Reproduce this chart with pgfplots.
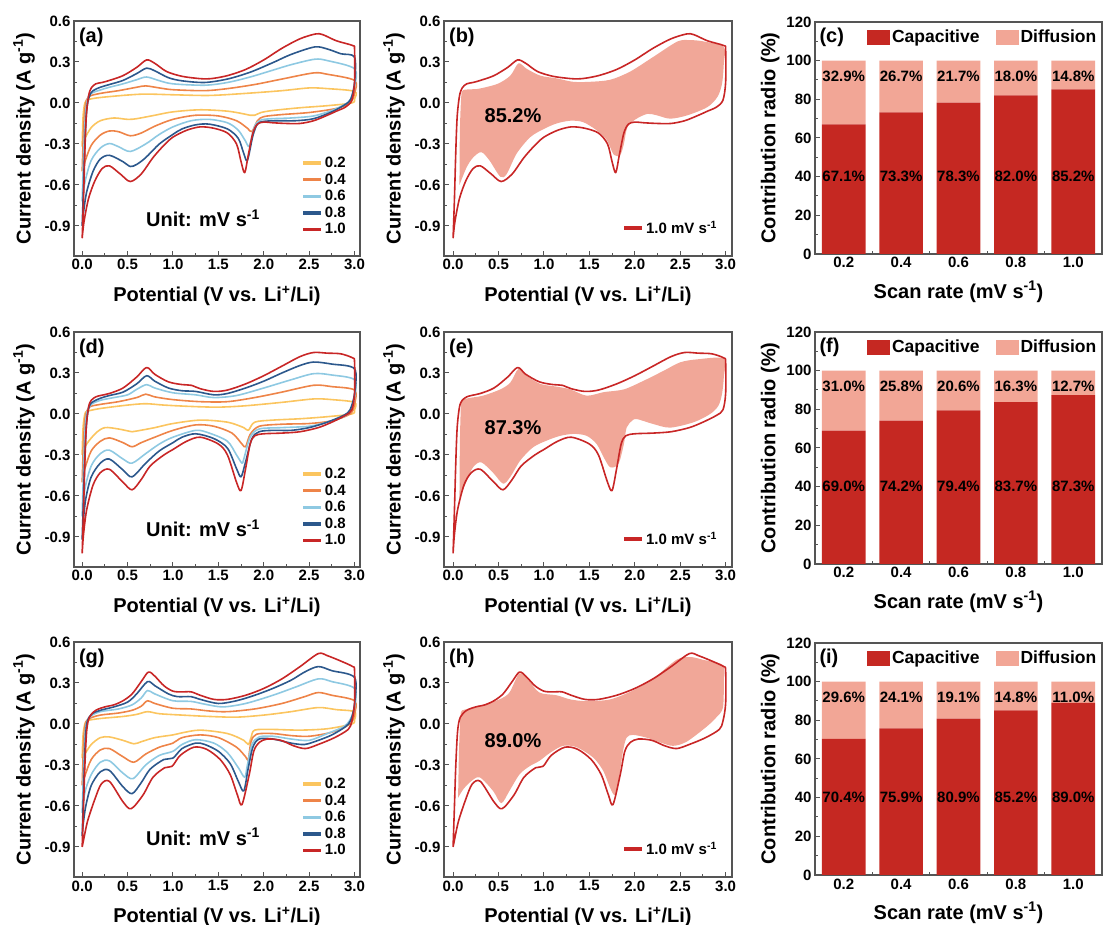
\documentclass[border=0pt]{standalone}
\usepackage{fontspec}
\setmainfont{Liberation Sans}
\usepackage{pgfplots}
\pgfplotsset{compat=1.18}
\definecolor{cY}{RGB}{251,197,95}
\definecolor{cO}{RGB}{238,132,72}
\definecolor{cLB}{RGB}{142,201,226}
\definecolor{cB}{RGB}{44,88,140}
\definecolor{cR}{RGB}{200,38,38}
\definecolor{capR}{RGB}{197,40,34}
\definecolor{difP}{RGB}{242,166,150}
\definecolor{shd}{RGB}{241,167,152}
\definecolor{axc}{RGB}{85,85,85}
\tikzset{
 plab/.style={font=\fontsize{20pt}{24pt}\selectfont\bfseries, inner sep=0pt},
 blab/.style={font=\fontsize{15pt}{18pt}\selectfont\bfseries, inner sep=0pt, text=black}
}
\pgfplotsset{
 base/.style={scale only axis, tick pos=left, tick align=inside,
   axis line style={draw=axc,line width=1.1pt},
   every tick/.style={draw=axc,line width=1pt},
   major tick length=5pt, minor tick length=3pt,
   /pgf/number format/assume math mode=true,
   tick label style={font=\fontsize{15pt}{18pt}\selectfont\bfseries},
   label style={font=\fontsize{20pt}{24pt}\selectfont\bfseries},
   enlargelimits=false},
 cv/.style={base, height=235pt, ymin=-1.12, ymax=0.6,
   xtick={0,0.5,1,1.5,2,2.5,3}, ytick={-0.9,-0.6,-0.3,0,0.3,0.6},
   minor x tick num=1, minor y tick num=1,
   xticklabel style={/pgf/number format/.cd,fixed,fixed zerofill,precision=1},
   yticklabel style={/pgf/number format/.cd,fixed,fixed zerofill,precision=1},
   xlabel={Potential (V vs. Li\textsuperscript{+}/Li)},
   ylabel={Current density (A g\textsuperscript{-1})},
   xlabel style={yshift=-9pt}, ylabel style={yshift=3pt},
   every axis plot/.append style={smooth, line width=1.6pt, line join=round},
   legend cell align=left,
   legend image code/.code={\draw[##1, line width=3.5pt] (0pt,0pt) -- (18pt,0pt);}},
 c1/.style={cv,width=286pt,xmin=-0.09,xmax=3.06,
   legend style={draw=none, fill=none, at={(0.958,0.43)}, anchor=north east,
   font=\fontsize{15pt}{18pt}\selectfont\bfseries, inner sep=0pt, row sep=0.6pt}},
 c2/.style={cv,width=288pt,xmin=-0.1,xmax=3.07,
   legend style={draw=none, fill=none, at={(0.955,0.12)}, anchor=east,
   font=\fontsize{15pt}{18pt}\selectfont\bfseries, inner sep=0pt}},
 br/.style={base, width=287pt, height=232pt, xmin=-0.5, xmax=4.5, ymin=0, ymax=120,
   ybar stacked, bar width=0.76, xtick={0,1,2,3,4}, xticklabels={0.2,0.4,0.6,0.8,1.0},
   minor xtick={0.5,1.5,2.5,3.5}, ytick={0,20,40,60,80,100,120}, minor y tick num=1,
   xlabel={Scan rate (mV s\textsuperscript{-1})}, ylabel={Contribution radio (\%)},
   xlabel style={yshift=-6pt},
   legend columns=2,
   legend style={draw=none, fill=none, at={(0.988,0.935)}, anchor=east,
   font=\fontsize{17.5pt}{21pt}\selectfont\bfseries, inner sep=0pt,
   /tikz/every even column/.append style={column sep=14pt}},
   legend image code/.code={\fill[##1, draw=none] (0pt,-7.5pt) rectangle (23pt,7.5pt);}},
 ov/.style={scale only axis, width=287pt, height=232pt, xmin=-0.5, xmax=4.5, ymin=0, ymax=120, hide axis, clip=false}
}
\begin{document}
\begin{tikzpicture}
\useasboundingbox (0,0) rectangle (1105pt,925pt);
% ================= (a) =================
\begin{axis}[c1, at={(74pt,669pt)}, anchor=south west]
\addplot[cY] coordinates {(0,-0.32) (0.01,-0.1) (0.03,0.0) (0.07,0.025) (0.2,0.04) (0.5,0.058) (0.7,0.065) (1.0,0.06) (1.4,0.055) (1.8,0.07) (2.2,0.09) (2.5,0.11) (2.7,0.105) (3.0,0.085) (3.0,0.03)
 (2.97,0.0) (2.7,-0.02) (2.4,-0.035) (2.1,-0.055) (1.97,-0.07) (1.9,-0.09) (1.85,-0.09) (1.78,-0.08) (1.6,-0.06) (1.3,-0.05) (1.0,-0.065) (0.8,-0.09) (0.6,-0.115) (0.5,-0.12) (0.35,-0.11) (0.2,-0.13) (0.1,-0.18) (0.03,-0.26) (0,-0.32)};
\addplot[cO] coordinates {(0,-0.5) (0.015,-0.2) (0.035,-0.02) (0.07,0.045) (0.2,0.07) (0.4,0.09) (0.6,0.115) (0.7,0.125) (0.85,0.11) (1.0,0.097) (1.35,0.09) (1.6,0.105) (1.9,0.135) (2.2,0.175) (2.55,0.22) (2.7,0.21) (3.0,0.165) (3.0,0.07)
 (2.95,0.0) (2.8,-0.04) (2.5,-0.07) (2.2,-0.085) (2.0,-0.1) (1.93,-0.13) (1.87,-0.21) (1.82,-0.185) (1.7,-0.13) (1.5,-0.095) (1.25,-0.09) (1.0,-0.12) (0.8,-0.17) (0.65,-0.22) (0.53,-0.24) (0.4,-0.21) (0.3,-0.205) (0.2,-0.235) (0.1,-0.31) (0.03,-0.43) (0,-0.5)};
\addplot[cLB] coordinates {(0,-0.72) (0.015,-0.4) (0.035,-0.1) (0.06,0.03) (0.1,0.07) (0.2,0.095) (0.3,0.115) (0.45,0.14) (0.6,0.17) (0.71,0.19) (0.85,0.163) (1.0,0.14) (1.35,0.13) (1.6,0.15) (1.85,0.19) (2.1,0.24) (2.3,0.28) (2.56,0.32) (2.7,0.31) (3.0,0.25) (3.0,0.12)
 (2.95,0.02) (2.88,-0.015) (2.75,-0.055) (2.55,-0.095) (2.3,-0.11) (2.1,-0.115) (1.97,-0.125) (1.9,-0.17) (1.84,-0.315) (1.8,-0.28) (1.72,-0.2) (1.6,-0.145) (1.4,-0.12) (1.2,-0.13) (1.0,-0.175) (0.85,-0.23) (0.7,-0.3) (0.53,-0.355) (0.4,-0.32) (0.3,-0.297) (0.2,-0.33) (0.1,-0.42) (0.03,-0.58) (0,-0.72)};
\addplot[cB] coordinates {(0,-0.9) (0.015,-0.6) (0.03,-0.3) (0.05,-0.05) (0.08,0.05) (0.12,0.09) (0.2,0.115) (0.3,0.135) (0.45,0.165) (0.6,0.215) (0.71,0.255) (0.8,0.235) (0.95,0.185) (1.1,0.162) (1.35,0.15) (1.6,0.175) (1.85,0.225) (2.1,0.295) (2.3,0.355) (2.56,0.41) (2.7,0.395) (2.85,0.36) (3.0,0.335) (3.0,0.15)
 (2.96,0.03) (2.9,-0.01) (2.75,-0.065) (2.55,-0.115) (2.35,-0.13) (2.15,-0.13) (2.0,-0.135) (1.93,-0.155) (1.88,-0.24) (1.82,-0.42) (1.78,-0.37) (1.72,-0.26) (1.6,-0.19) (1.4,-0.155) (1.25,-0.16) (1.1,-0.19) (1.0,-0.23) (0.85,-0.3) (0.7,-0.4) (0.6,-0.45) (0.53,-0.465) (0.45,-0.43) (0.3,-0.383) (0.2,-0.41) (0.12,-0.5) (0.05,-0.65) (0.015,-0.8) (0,-0.9)};
\addplot[cR] coordinates {(0,-0.99) (0.015,-0.7) (0.03,-0.35) (0.045,-0.1) (0.07,0.05) (0.1,0.11) (0.15,0.14) (0.22,0.15) (0.3,0.165) (0.45,0.2) (0.6,0.26) (0.71,0.315) (0.8,0.29) (0.93,0.23) (1.1,0.195) (1.3,0.178) (1.42,0.178) (1.6,0.2) (1.8,0.245) (2.0,0.315) (2.2,0.4) (2.4,0.47) (2.57,0.505) (2.65,0.5) (2.8,0.455) (2.98,0.42) (3.0,0.39) (3.0,0.15)
 (2.97,0.02) (2.9,-0.03) (2.8,-0.06) (2.7,-0.09) (2.55,-0.13) (2.4,-0.15) (2.25,-0.15) (2.1,-0.145) (2.0,-0.14) (1.93,-0.155) (1.88,-0.22) (1.83,-0.38) (1.79,-0.51) (1.75,-0.43) (1.7,-0.3) (1.6,-0.22) (1.45,-0.185) (1.3,-0.175) (1.15,-0.2) (1.0,-0.25) (0.9,-0.31) (0.78,-0.4) (0.65,-0.52) (0.53,-0.575) (0.42,-0.52) (0.3,-0.46) (0.22,-0.48) (0.14,-0.57) (0.07,-0.7) (0.02,-0.87) (0,-0.99)};
\legend{0.2,0.4,0.6,0.8,1.0}
\node[plab, anchor=north west] at (rel axis cs:0.017,0.97) {(a)};
\node[plab] at (rel axis cs:0.451,0.161) {Unit: mV s\textsuperscript{-1}};
\end{axis}
% ================= (b) =================
\begin{axis}[c2, at={(444pt,669pt)}, anchor=south west]
\addplot[fill=shd, draw=none, forget plot] coordinates {(0.07,-0.6) (0.075,-0.2) (0.09,0.05) (0.11,0.093) (0.2,0.1) (0.29,0.105) (0.49,0.14) (0.63,0.2) (0.72,0.29) (0.81,0.25) (0.96,0.2) (1.14,0.18) (1.32,0.155) (1.51,0.155) (1.73,0.17) (1.95,0.23) (2.21,0.34) (2.47,0.45) (2.61,0.46) (2.76,0.45) (2.98,0.41) (2.98,0.29) (2.96,0.14) (2.91,0.045) (2.8,-0.03) (2.58,-0.09) (2.39,-0.115) (2.24,-0.09) (2.14,-0.08) (2.02,-0.115) (1.92,-0.175) (1.88,-0.3) (1.84,-0.38) (1.77,-0.38) (1.69,-0.27) (1.58,-0.2) (1.43,-0.14) (1.29,-0.13) (1.14,-0.15) (1.0,-0.19) (0.85,-0.25) (0.7,-0.37) (0.59,-0.52) (0.52,-0.54) (0.4,-0.42) (0.31,-0.36) (0.22,-0.4) (0.15,-0.47) (0.07,-0.6)};
\addplot[cR] coordinates {(0,-0.99) (0.015,-0.7) (0.03,-0.35) (0.045,-0.1) (0.07,0.05) (0.1,0.11) (0.15,0.14) (0.22,0.15) (0.3,0.165) (0.45,0.2) (0.6,0.26) (0.71,0.315) (0.8,0.29) (0.93,0.23) (1.1,0.195) (1.3,0.178) (1.42,0.178) (1.6,0.2) (1.8,0.245) (2.0,0.315) (2.2,0.4) (2.4,0.47) (2.57,0.505) (2.65,0.5) (2.8,0.455) (2.98,0.42) (3.0,0.39) (3.0,0.15)
 (2.97,0.02) (2.9,-0.03) (2.8,-0.06) (2.7,-0.09) (2.55,-0.13) (2.4,-0.15) (2.25,-0.15) (2.1,-0.145) (2.0,-0.14) (1.93,-0.155) (1.88,-0.22) (1.83,-0.38) (1.79,-0.51) (1.75,-0.43) (1.7,-0.3) (1.6,-0.22) (1.45,-0.185) (1.3,-0.175) (1.15,-0.2) (1.0,-0.25) (0.9,-0.31) (0.78,-0.4) (0.65,-0.52) (0.53,-0.575) (0.42,-0.52) (0.3,-0.46) (0.22,-0.48) (0.14,-0.57) (0.07,-0.7) (0.02,-0.87) (0,-0.99)};
\legend{1.0 mV s\textsuperscript{-1}}
\node[plab, anchor=north west] at (rel axis cs:0.017,0.97) {(b)};
\node[plab] at (axis cs:0.66,-0.09) {85.2\%};
\end{axis}
% ================= (c) =================
\begin{axis}[br, at={(815pt,671pt)}, anchor=south west]
\addplot[fill=capR, draw=none] coordinates {(0,67.1) (1,73.3) (2,78.3) (3,82.0) (4,85.2)};
\addplot[fill=difP, draw=none] coordinates {(0,32.9) (1,26.7) (2,21.7) (3,18.0) (4,14.8)};
\legend{Capacitive,Diffusion}
\node[plab, anchor=west] at (rel axis cs:0.015,0.935) {(c)};
\end{axis}
\begin{axis}[ov, at={(815pt,671pt)}, anchor=south west]
\node[blab] at (axis cs:0,40) {67.1\%}; \node[blab] at (axis cs:1,40) {73.3\%};
\node[blab] at (axis cs:2,40) {78.3\%}; \node[blab] at (axis cs:3,40) {82.0\%};
\node[blab] at (axis cs:4,40) {85.2\%};
\node[blab] at (axis cs:0,92) {32.9\%}; \node[blab] at (axis cs:1,92) {26.7\%};
\node[blab] at (axis cs:2,92) {21.7\%}; \node[blab] at (axis cs:3,92) {18.0\%};
\node[blab] at (axis cs:4,92) {14.8\%};
\end{axis}
% ================= (d) =================
\begin{axis}[c1, at={(74pt,358pt)}, anchor=south west]
\addplot[cY] coordinates {(0,-0.3) (0.01,-0.1) (0.03,0.0) (0.06,0.02) (0.2,0.04) (0.5,0.065) (0.7,0.075) (0.9,0.065) (1.2,0.055) (1.5,0.05) (1.8,0.06) (2.2,0.085) (2.55,0.11) (2.75,0.105) (3.0,0.085) (3.0,0.03)
 (2.97,0.0) (2.7,-0.02) (2.4,-0.035) (2.1,-0.045) (1.9,-0.06) (1.83,-0.12) (1.78,-0.1) (1.6,-0.06) (1.3,-0.045) (1.0,-0.07) (0.8,-0.1) (0.6,-0.125) (0.55,-0.13) (0.4,-0.11) (0.25,-0.1) (0.15,-0.14) (0.05,-0.22) (0,-0.3)};
\addplot[cO] coordinates {(0,-0.5) (0.015,-0.2) (0.035,-0.02) (0.08,0.05) (0.2,0.07) (0.4,0.09) (0.6,0.12) (0.7,0.145) (0.8,0.125) (1.0,0.105) (1.3,0.09) (1.6,0.09) (1.9,0.12) (2.2,0.16) (2.55,0.21) (2.75,0.2) (3.0,0.175) (3.0,0.07)
 (2.95,0.0) (2.75,-0.05) (2.5,-0.07) (2.2,-0.075) (1.95,-0.09) (1.85,-0.15) (1.8,-0.24) (1.76,-0.22) (1.65,-0.14) (1.45,-0.09) (1.25,-0.08) (1.0,-0.12) (0.8,-0.17) (0.65,-0.21) (0.55,-0.24) (0.45,-0.21) (0.3,-0.175) (0.2,-0.2) (0.1,-0.27) (0.03,-0.4) (0,-0.5)};
\addplot[cLB] coordinates {(0,-0.75) (0.015,-0.4) (0.035,-0.08) (0.06,0.03) (0.1,0.07) (0.2,0.1) (0.35,0.12) (0.5,0.14) (0.6,0.18) (0.71,0.215) (0.8,0.19) (1.0,0.155) (1.25,0.14) (1.45,0.12) (1.7,0.135) (2.0,0.19) (2.3,0.25) (2.55,0.295) (2.75,0.285) (3.0,0.25) (3.0,0.12)
 (2.95,0.02) (2.88,-0.02) (2.7,-0.06) (2.5,-0.09) (2.2,-0.1) (1.95,-0.11) (1.85,-0.17) (1.78,-0.33) (1.76,-0.36) (1.7,-0.3) (1.6,-0.2) (1.4,-0.14) (1.25,-0.12) (1.0,-0.17) (0.85,-0.22) (0.7,-0.29) (0.55,-0.36) (0.45,-0.33) (0.3,-0.265) (0.2,-0.29) (0.1,-0.38) (0.03,-0.55) (0,-0.75)};
\addplot[cB] coordinates {(0,-0.92) (0.015,-0.6) (0.03,-0.3) (0.05,-0.05) (0.08,0.06) (0.12,0.09) (0.2,0.115) (0.3,0.135) (0.45,0.16) (0.6,0.22) (0.71,0.28) (0.8,0.24) (0.95,0.19) (1.1,0.17) (1.25,0.165) (1.45,0.14) (1.6,0.15) (1.8,0.19) (2.0,0.24) (2.2,0.3) (2.4,0.355) (2.55,0.38) (2.75,0.365) (3.0,0.33) (3.0,0.15)
 (2.95,0.03) (2.88,-0.01) (2.7,-0.06) (2.5,-0.1) (2.3,-0.12) (2.1,-0.12) (1.95,-0.13) (1.87,-0.18) (1.8,-0.35) (1.75,-0.46) (1.7,-0.4) (1.6,-0.25) (1.45,-0.18) (1.25,-0.145) (1.1,-0.17) (1.0,-0.21) (0.85,-0.27) (0.7,-0.36) (0.55,-0.46) (0.45,-0.41) (0.3,-0.33) (0.2,-0.36) (0.1,-0.46) (0.04,-0.62) (0.01,-0.8) (0,-0.92)};
\addplot[cR] coordinates {(0,-1.02) (0.015,-0.7) (0.03,-0.35) (0.045,-0.1) (0.07,0.05) (0.1,0.1) (0.15,0.125) (0.2,0.135) (0.3,0.15) (0.45,0.19) (0.6,0.27) (0.71,0.34) (0.8,0.29) (0.95,0.235) (1.1,0.215) (1.2,0.21) (1.3,0.185) (1.45,0.165) (1.6,0.175) (1.8,0.22) (2.0,0.28) (2.2,0.35) (2.4,0.42) (2.55,0.45) (2.7,0.445) (2.85,0.44) (2.98,0.41) (3.0,0.38) (3.0,0.15)
 (2.97,0.03) (2.9,-0.01) (2.75,-0.06) (2.6,-0.1) (2.4,-0.13) (2.2,-0.14) (2.0,-0.145) (1.9,-0.16) (1.85,-0.22) (1.8,-0.4) (1.75,-0.56) (1.7,-0.5) (1.6,-0.3) (1.5,-0.22) (1.3,-0.17) (1.15,-0.2) (1.0,-0.26) (0.9,-0.3) (0.75,-0.38) (0.65,-0.48) (0.55,-0.555) (0.45,-0.5) (0.3,-0.405) (0.2,-0.43) (0.12,-0.52) (0.05,-0.7) (0.015,-0.88) (0,-1.02)};
\legend{0.2,0.4,0.6,0.8,1.0}
\node[plab, anchor=north west] at (rel axis cs:0.017,0.97) {(d)};
\node[plab] at (rel axis cs:0.451,0.164) {Unit: mV s\textsuperscript{-1}};
\end{axis}
% ================= (e) =================
\begin{axis}[c2, at={(444pt,358pt)}, anchor=south west]
\addplot[fill=shd, draw=none, forget plot] coordinates {(0.07,-0.62) (0.075,-0.2) (0.085,0.05) (0.09,0.1) (0.18,0.117) (0.33,0.134) (0.52,0.18) (0.63,0.23) (0.72,0.33) (0.81,0.28) (0.96,0.22) (1.14,0.2) (1.29,0.18) (1.47,0.134) (1.66,0.16) (1.88,0.18) (2.1,0.244) (2.32,0.317) (2.5,0.378) (2.69,0.4) (2.98,0.405) (2.98,0.27) (2.96,0.146) (2.92,0.06) (2.83,0.0) (2.65,-0.06) (2.39,-0.1) (2.2,-0.073) (2.02,-0.037) (1.97,-0.05) (1.91,-0.1) (1.88,-0.22) (1.82,-0.366) (1.73,-0.39) (1.66,-0.32) (1.58,-0.22) (1.47,-0.16) (1.33,-0.146) (1.18,-0.16) (1.03,-0.195) (0.88,-0.244) (0.74,-0.34) (0.63,-0.46) (0.55,-0.51) (0.44,-0.43) (0.31,-0.354) (0.22,-0.39) (0.15,-0.49) (0.07,-0.62)};
\addplot[cR] coordinates {(0,-1.02) (0.015,-0.7) (0.03,-0.35) (0.045,-0.1) (0.07,0.05) (0.1,0.1) (0.15,0.125) (0.2,0.135) (0.3,0.15) (0.45,0.19) (0.6,0.27) (0.71,0.34) (0.8,0.29) (0.95,0.235) (1.1,0.215) (1.2,0.21) (1.3,0.185) (1.45,0.165) (1.6,0.175) (1.8,0.22) (2.0,0.28) (2.2,0.35) (2.4,0.42) (2.55,0.45) (2.7,0.445) (2.85,0.44) (2.98,0.41) (3.0,0.38) (3.0,0.15)
 (2.97,0.03) (2.9,-0.01) (2.75,-0.06) (2.6,-0.1) (2.4,-0.13) (2.2,-0.14) (2.0,-0.145) (1.9,-0.16) (1.85,-0.22) (1.8,-0.4) (1.75,-0.56) (1.7,-0.5) (1.6,-0.3) (1.5,-0.22) (1.3,-0.17) (1.15,-0.2) (1.0,-0.26) (0.9,-0.3) (0.75,-0.38) (0.65,-0.48) (0.55,-0.555) (0.45,-0.5) (0.3,-0.405) (0.2,-0.43) (0.12,-0.52) (0.05,-0.7) (0.015,-0.88) (0,-1.02)};
\legend{1.0 mV s\textsuperscript{-1}}
\node[plab, anchor=north west] at (rel axis cs:0.017,0.97) {(e)};
\node[plab] at (axis cs:0.66,-0.1) {87.3\%};
\end{axis}
% ================= (f) =================
\begin{axis}[br, at={(815pt,361pt)}, anchor=south west]
\addplot[fill=capR, draw=none] coordinates {(0,69.0) (1,74.2) (2,79.4) (3,83.7) (4,87.3)};
\addplot[fill=difP, draw=none] coordinates {(0,31.0) (1,25.8) (2,20.6) (3,16.3) (4,12.7)};
\legend{Capacitive,Diffusion}
\node[plab, anchor=west] at (rel axis cs:0.015,0.935) {(f)};
\end{axis}
\begin{axis}[ov, at={(815pt,361pt)}, anchor=south west]
\node[blab] at (axis cs:0,40) {69.0\%}; \node[blab] at (axis cs:1,40) {74.2\%};
\node[blab] at (axis cs:2,40) {79.4\%}; \node[blab] at (axis cs:3,40) {83.7\%};
\node[blab] at (axis cs:4,40) {87.3\%};
\node[blab] at (axis cs:0,92) {31.0\%}; \node[blab] at (axis cs:1,92) {25.8\%};
\node[blab] at (axis cs:2,92) {20.6\%}; \node[blab] at (axis cs:3,92) {16.3\%};
\node[blab] at (axis cs:4,92) {12.7\%};
\end{axis}
% ================= (g) =================
\begin{axis}[c1, at={(74pt,48pt)}, anchor=south west]
\addplot[cY] coordinates {(0,-0.25) (0.01,-0.08) (0.03,0.0) (0.06,0.025) (0.2,0.04) (0.45,0.055) (0.6,0.07) (0.72,0.09) (0.85,0.075) (1.1,0.065) (1.4,0.055) (1.7,0.05) (2.0,0.065) (2.3,0.09) (2.6,0.12) (2.8,0.105) (3.0,0.09) (3.0,0.03)
 (2.97,0.0) (2.7,-0.035) (2.4,-0.045) (2.1,-0.04) (1.9,-0.045) (1.86,-0.1) (1.83,-0.15) (1.78,-0.12) (1.6,-0.07) (1.3,-0.045) (1.1,-0.065) (1.0,-0.08) (0.8,-0.1) (0.65,-0.13) (0.57,-0.145) (0.45,-0.12) (0.3,-0.095) (0.2,-0.1) (0.1,-0.15) (0.03,-0.22) (0,-0.25)};
\addplot[cO] coordinates {(0,-0.45) (0.015,-0.15) (0.035,0.0) (0.08,0.04) (0.2,0.065) (0.4,0.08) (0.55,0.1) (0.65,0.13) (0.72,0.17) (0.8,0.15) (1.0,0.115) (1.2,0.11) (1.4,0.095) (1.6,0.09) (1.9,0.11) (2.2,0.15) (2.45,0.2) (2.6,0.23) (2.75,0.21) (3.0,0.17) (3.0,0.07)
 (2.95,0.0) (2.75,-0.06) (2.5,-0.09) (2.3,-0.085) (2.1,-0.07) (1.92,-0.075) (1.86,-0.13) (1.83,-0.26) (1.8,-0.24) (1.7,-0.17) (1.5,-0.1) (1.3,-0.08) (1.1,-0.1) (1.0,-0.14) (0.85,-0.17) (0.7,-0.22) (0.57,-0.28) (0.45,-0.24) (0.3,-0.18) (0.2,-0.19) (0.1,-0.26) (0.03,-0.38) (0,-0.45)};
\addplot[cLB] coordinates {(0,-0.65) (0.015,-0.35) (0.035,-0.05) (0.06,0.03) (0.1,0.06) (0.2,0.09) (0.4,0.11) (0.55,0.14) (0.65,0.19) (0.72,0.245) (0.8,0.22) (1.0,0.17) (1.2,0.165) (1.35,0.145) (1.55,0.125) (1.8,0.15) (2.1,0.21) (2.35,0.27) (2.6,0.33) (2.75,0.31) (3.0,0.26) (3.0,0.12)
 (2.95,0.03) (2.88,-0.02) (2.7,-0.07) (2.5,-0.12) (2.3,-0.11) (2.1,-0.09) (1.95,-0.095) (1.87,-0.15) (1.82,-0.3) (1.79,-0.39) (1.72,-0.32) (1.6,-0.21) (1.45,-0.14) (1.25,-0.115) (1.1,-0.15) (1.0,-0.2) (0.85,-0.23) (0.7,-0.3) (0.56,-0.4) (0.45,-0.36) (0.3,-0.27) (0.2,-0.28) (0.1,-0.37) (0.03,-0.5) (0,-0.65)};
\addplot[cB] coordinates {(0,-0.82) (0.015,-0.5) (0.03,-0.2) (0.05,0.0) (0.1,0.07) (0.2,0.1) (0.35,0.125) (0.5,0.16) (0.6,0.22) (0.72,0.31) (0.8,0.28) (0.95,0.22) (1.05,0.2) (1.2,0.2) (1.3,0.18) (1.5,0.15) (1.7,0.17) (1.9,0.21) (2.1,0.26) (2.3,0.32) (2.45,0.38) (2.6,0.42) (2.75,0.39) (3.0,0.34) (3.0,0.15)
 (2.96,0.03) (2.9,-0.02) (2.75,-0.08) (2.6,-0.12) (2.45,-0.15) (2.3,-0.14) (2.1,-0.11) (1.95,-0.11) (1.88,-0.17) (1.83,-0.32) (1.78,-0.49) (1.72,-0.42) (1.63,-0.29) (1.5,-0.2) (1.35,-0.15) (1.25,-0.14) (1.1,-0.18) (1.0,-0.25) (0.9,-0.26) (0.75,-0.33) (0.65,-0.43) (0.55,-0.51) (0.45,-0.46) (0.3,-0.34) (0.2,-0.35) (0.1,-0.45) (0.04,-0.6) (0.01,-0.74) (0,-0.82)};
\addplot[cR] coordinates {(0,-0.9) (0.015,-0.6) (0.03,-0.3) (0.05,-0.05) (0.08,0.05) (0.15,0.1) (0.25,0.125) (0.35,0.14) (0.45,0.17) (0.55,0.22) (0.65,0.31) (0.73,0.38) (0.8,0.35) (0.9,0.28) (1.0,0.24) (1.1,0.235) (1.2,0.235) (1.3,0.21) (1.45,0.18) (1.6,0.18) (1.8,0.21) (2.0,0.26) (2.2,0.33) (2.4,0.42) (2.6,0.515) (2.7,0.5) (2.85,0.46) (2.98,0.42) (3.0,0.39) (3.0,0.15)
 (2.97,0.02) (2.93,-0.04) (2.78,-0.1) (2.6,-0.15) (2.46,-0.18) (2.33,-0.16) (2.19,-0.12) (2.04,-0.11) (1.95,-0.135) (1.89,-0.2) (1.84,-0.37) (1.76,-0.59) (1.71,-0.52) (1.63,-0.37) (1.52,-0.26) (1.37,-0.185) (1.23,-0.17) (1.08,-0.23) (0.99,-0.31) (0.91,-0.32) (0.78,-0.39) (0.67,-0.52) (0.54,-0.62) (0.45,-0.57) (0.3,-0.42) (0.21,-0.44) (0.14,-0.55) (0.06,-0.71) (0.015,-0.85) (0,-0.9)};
\legend{0.2,0.4,0.6,0.8,1.0}
\node[plab, anchor=north west] at (rel axis cs:0.017,0.97) {(g)};
\node[plab] at (rel axis cs:0.451,0.172) {Unit: mV s\textsuperscript{-1}};
\end{axis}
% ================= (h) =================
\begin{axis}[c2, at={(444pt,48pt)}, anchor=south west]
\addplot[fill=shd, draw=none, forget plot] coordinates {(0.055,-0.54) (0.065,-0.2) (0.08,0.05) (0.1,0.1) (0.18,0.11) (0.33,0.14) (0.51,0.18) (0.62,0.23) (0.73,0.37) (0.83,0.32) (0.95,0.23) (1.14,0.21) (1.29,0.18) (1.47,0.167) (1.73,0.18) (1.98,0.245) (2.2,0.33) (2.46,0.47) (2.61,0.49) (2.75,0.47) (2.97,0.43) (2.98,0.32) (2.97,0.12) (2.9,0.05) (2.79,-0.02) (2.57,-0.13) (2.42,-0.16) (2.28,-0.135) (2.13,-0.1) (1.98,-0.08) (1.91,-0.1) (1.87,-0.2) (1.82,-0.42) (1.78,-0.52) (1.73,-0.47) (1.65,-0.34) (1.54,-0.245) (1.36,-0.17) (1.21,-0.16) (1.07,-0.21) (0.95,-0.27) (0.84,-0.31) (0.73,-0.37) (0.62,-0.49) (0.53,-0.58) (0.44,-0.49) (0.29,-0.39) (0.18,-0.43) (0.11,-0.48) (0.055,-0.54)};
\addplot[cR] coordinates {(0,-0.9) (0.015,-0.6) (0.03,-0.3) (0.05,-0.05) (0.08,0.05) (0.15,0.1) (0.25,0.125) (0.35,0.14) (0.45,0.17) (0.55,0.22) (0.65,0.31) (0.73,0.38) (0.8,0.35) (0.9,0.28) (1.0,0.24) (1.1,0.235) (1.2,0.235) (1.3,0.21) (1.45,0.18) (1.6,0.18) (1.8,0.21) (2.0,0.26) (2.2,0.33) (2.4,0.42) (2.6,0.515) (2.7,0.5) (2.85,0.46) (2.98,0.42) (3.0,0.39) (3.0,0.15)
 (2.97,0.02) (2.93,-0.04) (2.78,-0.1) (2.6,-0.15) (2.46,-0.18) (2.33,-0.16) (2.19,-0.12) (2.04,-0.11) (1.95,-0.135) (1.89,-0.2) (1.84,-0.37) (1.76,-0.59) (1.71,-0.52) (1.63,-0.37) (1.52,-0.26) (1.37,-0.185) (1.23,-0.17) (1.08,-0.23) (0.99,-0.31) (0.91,-0.32) (0.78,-0.39) (0.67,-0.52) (0.54,-0.62) (0.45,-0.57) (0.3,-0.42) (0.21,-0.44) (0.14,-0.55) (0.06,-0.71) (0.015,-0.85) (0,-0.9)};
\legend{1.0 mV s\textsuperscript{-1}}
\node[plab, anchor=north west] at (rel axis cs:0.017,0.97) {(h)};
\node[plab] at (axis cs:0.66,-0.12) {89.0\%};
\end{axis}
% ================= (i) =================
\begin{axis}[br, at={(815pt,50pt)}, anchor=south west]
\addplot[fill=capR, draw=none] coordinates {(0,70.4) (1,75.9) (2,80.9) (3,85.2) (4,89.0)};
\addplot[fill=difP, draw=none] coordinates {(0,29.6) (1,24.1) (2,19.1) (3,14.8) (4,11.0)};
\legend{Capacitive,Diffusion}
\node[plab, anchor=west] at (rel axis cs:0.015,0.935) {(i)};
\end{axis}
\begin{axis}[ov, at={(815pt,50pt)}, anchor=south west]
\node[blab] at (axis cs:0,40) {70.4\%}; \node[blab] at (axis cs:1,40) {75.9\%};
\node[blab] at (axis cs:2,40) {80.9\%}; \node[blab] at (axis cs:3,40) {85.2\%};
\node[blab] at (axis cs:4,40) {89.0\%};
\node[blab] at (axis cs:0,92) {29.6\%}; \node[blab] at (axis cs:1,92) {24.1\%};
\node[blab] at (axis cs:2,92) {19.1\%}; \node[blab] at (axis cs:3,92) {14.8\%};
\node[blab] at (axis cs:4,92) {11.0\%};
\end{axis}
\end{tikzpicture}
\end{document}
